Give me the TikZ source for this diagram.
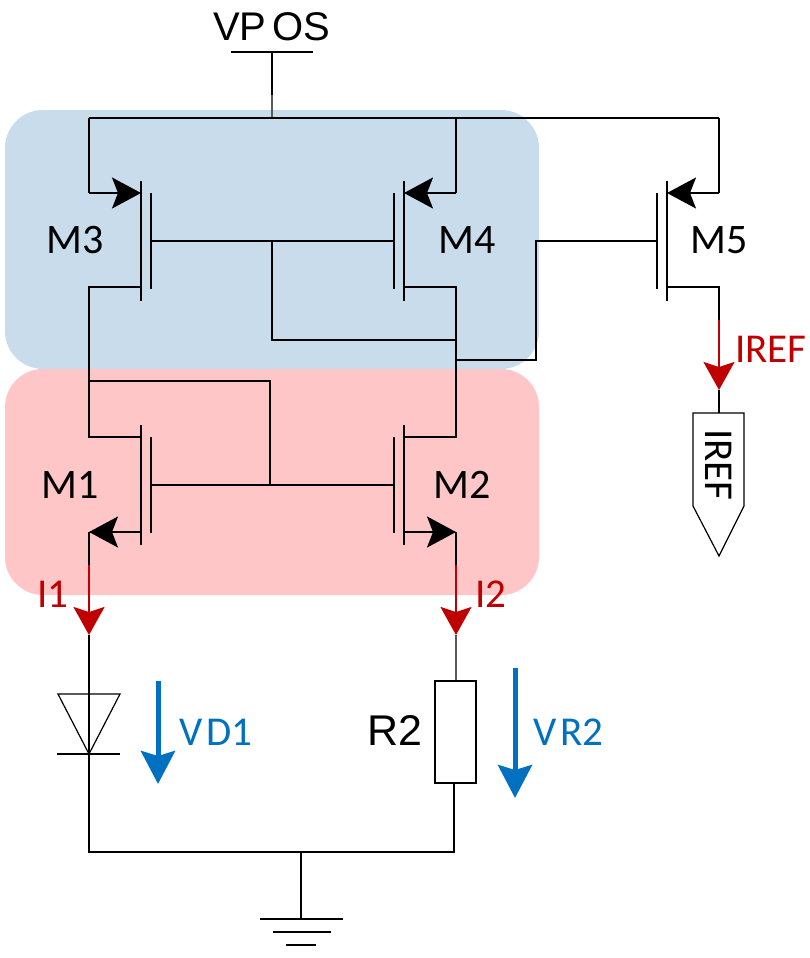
\documentclass[tikz,border=0pt]{standalone}
\usepackage{fontspec}
\setmainfont{Carlito}
\newfontfamily\arialfont{Liberation Sans}
\usetikzlibrary{arrows.meta}
\definecolor{zoneblue}{HTML}{C8DCEC}
\definecolor{zonepink}{HTML}{FFC6C8}
\definecolor{curred}{HTML}{C00000}
\definecolor{voltblue}{HTML}{0070C0}
\tikzset{
  wire/.style={line width=2pt,black},
  thinwire/.style={line width=1.2pt,black},
  graywire/.style={line width=1.5pt,black!65},
  bar/.style={line width=2pt,black},
  mosarrow/.style={line width=2pt,-{Stealth[length=29pt,width=31pt,inset=6pt]}},
  curarrow/.style={line width=2pt,curred,-{Stealth[length=28pt,width=31pt,inset=5pt,fill=curred]}},
  voltarrow/.style={line width=5pt,voltblue,-{Stealth[length=33pt,width=34pt,inset=5pt,fill=voltblue]}},
  zone/.style={rounded corners=38pt},
  lab/.style={inner sep=0pt,anchor=base west,font=\fontsize{42}{42}\selectfont},
  arlab/.style={inner sep=0pt,anchor=base west,font=\arialfont\fontsize{40}{40}\selectfont},
  curlab/.style={lab,text=curred,font=\fontsize{41}{41}\selectfont},
  voltlab/.style={lab,text=voltblue,font=\fontsize{41}{41}\selectfont},
}
\begin{document}
\begin{tikzpicture}[x=1pt,y=-1pt]
\useasboundingbox (0,0) rectangle (809,958);
% zones
\fill[zoneblue,zone] (5,110) rectangle (539,369);
\fill[zonepink,zone] (5,369) rectangle (539,595);
% supply
\coordinate (vl) at (231,52); \coordinate (vr) at (313,52); \coordinate (vs) at (272,52);
\coordinate (stem) at (272,95);
\coordinate (rail) at (272,118);
\coordinate (r3) at (89,118); \coordinate (r4) at (456,118); \coordinate (r5) at (719,118);
\draw[wire] (vl) -- (vr);
\draw[wire] (vs) -- (stem);
\draw[graywire] (stem) -- (rail);
\draw[wire] (r3) -- (r5);
% source pins
\coordinate (s3c) at (89,193); \coordinate (s3) at (141,193);
\coordinate (s4c) at (456,193); \coordinate (s4) at (404,193);
\coordinate (s5c) at (719,193); \coordinate (s5) at (667,193);
\draw[wire] (r3) -- (s3c); \draw[wire] (r4) -- (s4c); \draw[wire] (r5) -- (s5c);
\draw[mosarrow] (s3c) -- (s3);
\draw[mosarrow] (s4c) -- (s4);
\draw[mosarrow] (s5c) -- (s5);
% channels and gates
\foreach \x/\g in {141/151,404/394,667/657}{
  \draw[bar] (\x,181) -- (\x,301);
  \draw[bar] (\g,193) -- (\g,289);
}
\foreach \x/\g in {141/151,404/394}{
  \draw[bar] (\x,425) -- (\x,545);
  \draw[bar] (\g,437) -- (\g,533);
}
% M3/M4 gates
\coordinate (g3) at (151,241); \coordinate (g4) at (394,241); \coordinate (gj) at (272,241);
\coordinate (gb) at (272,340); \coordinate (gd) at (456,340);
\draw[wire] (g3) -- (g4);
\draw[wire] (gj) -- (gb) -- (gd);
% M5 gate
\coordinate (n1) at (456,360); \coordinate (n2) at (536,360); \coordinate (n3) at (536,241); \coordinate (g5) at (657,241);
\draw[wire] (n1) -- (n2) -- (n3) -- (g5);
% drains
\coordinate (d3) at (141,287); \coordinate (d3c) at (89,287);
\coordinate (d1) at (141,437); \coordinate (d1c) at (89,437);
\coordinate (d4) at (404,287); \coordinate (d4c) at (456,287);
\coordinate (d2) at (404,437); \coordinate (d2c) at (456,437);
\draw[wire] (d3) -- (d3c) -- (d1c) -- (d1);
\draw[wire] (d4) -- (d4c) -- (d2c) -- (d2);
% M1/M2 gates
\coordinate (g1) at (151,485); \coordinate (g2) at (394,485);
\coordinate (dj) at (89,381); \coordinate (dk) at (270,381); \coordinate (gk) at (270,485);
\draw[wire] (g1) -- (g2);
\draw[wire] (dj) -- (dk) -- (gk);
% M1/M2 sources
\coordinate (s1) at (141,532); \coordinate (s1c) at (89,532);
\coordinate (s2) at (404,532); \coordinate (s2c) at (456,532);
\draw[mosarrow] (s1) -- (s1c);
\draw[mosarrow] (s2) -- (s2c);
% lower branch
\coordinate (i1s) at (89,565); \coordinate (i1e) at (89,635);
\coordinate (i2s) at (456,565); \coordinate (i2e) at (456,635);
\coordinate (dtip) at (89,754);
\coordinate (bl) at (89,852); \coordinate (br) at (454,852);
\coordinate (rt) at (456,681); \coordinate (rb) at (454,783);
\draw[wire] (s1c) -- (i1s);
\draw[wire] (s2c) -- (i2s);
\draw[wire] (i1e) -- (bl) -- (br) -- (rb);
\draw[graywire] (i2e) -- (rt);
\draw[curarrow] (i1s) -- (i1e);
\draw[curarrow] (i2s) -- (i2e);
% diode
\coordinate (dl) at (58,694); \coordinate (dr) at (120,694);
\draw[thinwire] (dl) -- (dr) -- (dtip) -- cycle;
\coordinate (cl) at (57,754); \coordinate (cr) at (120,754);
\draw[wire] (cl) -- (cr);
% resistor
\draw[line width=2pt] (435,681) rectangle (476,783);
% ground
\coordinate (gnd) at (301,852); \coordinate (gndb) at (301,919);
\draw[wire] (gnd) -- (gndb);
\draw[wire] (260,919) -- (343,919);
\draw[wire] (273,932) -- (331,932);
\draw[wire] (286,945) -- (316,945);
% M5 drain and IREF pin
\coordinate (d5) at (667,287); \coordinate (d5c) at (719,287);
\coordinate (i5s) at (719,320); \coordinate (i5e) at (719,390); \coordinate (pin) at (719,413);
\draw[wire] (d5) -- (d5c) -- (i5s);
\draw[wire] (i5e) -- (pin);
\draw[curarrow] (i5s) -- (i5e);
\draw[thinwire] (693,413) -- (744,413) -- (744,506) -- (719,556) -- (693,506) -- cycle;
\node[inner sep=0pt,rotate=-90,font=\fontsize{41}{41}\selectfont] (pinlabel) at (719,465) {IREF};
% voltage arrows
\coordinate (vd1s) at (158,681); \coordinate (vd1e) at (158,784);
\coordinate (vr2s) at (515,668); \coordinate (vr2e) at (515,798);
\draw[voltarrow] (vd1s) -- (vd1e);
\draw[voltarrow] (vr2s) -- (vr2e);
% labels
\node[arlab] (vpos) at (213,41) {VP\hspace{6pt}OS};
\node[arlab,font=\arialfont\fontsize{43}{43}\selectfont] (r2) at (367,745) {R2};
\node[lab] (m3) at (46,253) {M3};
\node[lab] (m4) at (438,253) {M4};
\node[lab] (m5) at (690,253) {M5};
\node[lab] (m1) at (41,498) {M1};
\node[lab] (m2) at (433,498) {M2};
\node[curlab] (i1) at (37,607) {I1};
\node[curlab] (i2) at (475,607) {I2};
\node[curlab] (irefl) at (735,362) {IREF};
\node[voltlab] (vd1) at (179,745) {V\hspace{4pt}D1};
\node[voltlab] (vr2) at (533,745) {V\hspace{4pt}R2};
\end{tikzpicture}
\end{document}
